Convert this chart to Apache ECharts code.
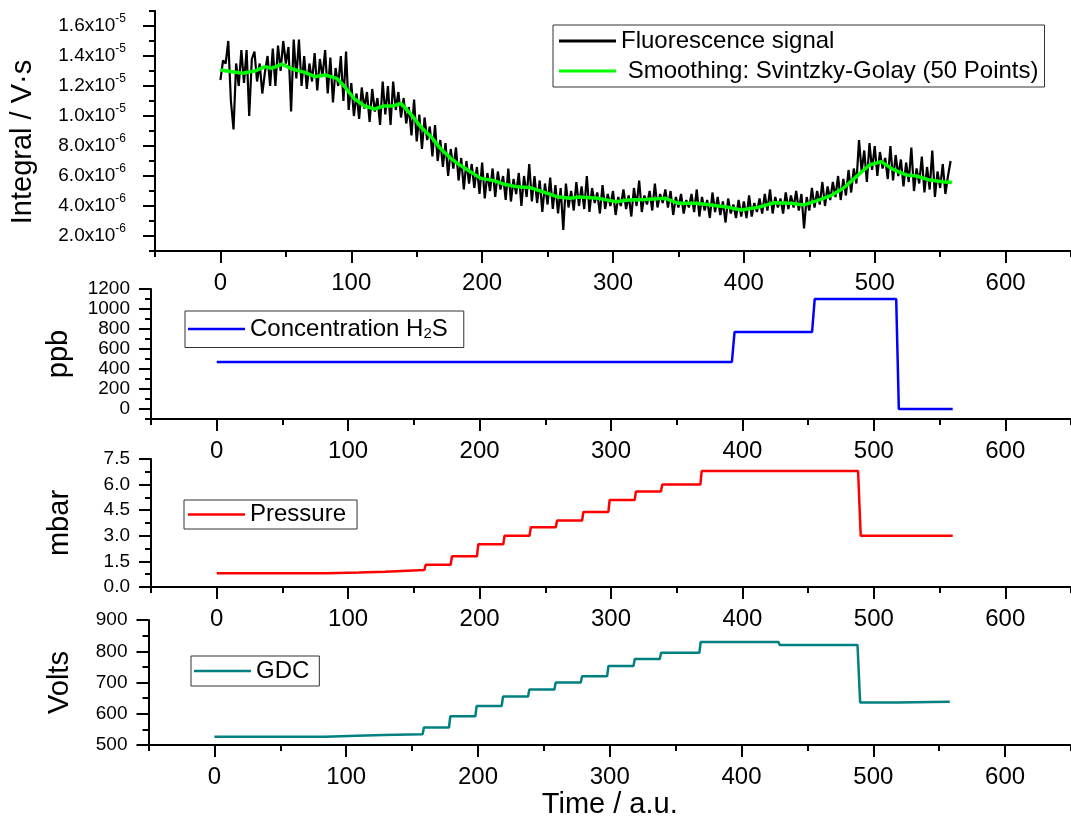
<!DOCTYPE html>
<html>
<head>
<meta charset="utf-8">
<script src="https://cdn.jsdelivr.net/npm/echarts@6/dist/echarts.min.js"></script>
<style>
  html, body { margin: 0; padding: 0; background: #fff; }
  #main { width: 1071px; height: 820px; }
</style>
</head>
<body>
<div id="main"></div>
<script>
// 荧光信号：x 从 0 开始，每 2 个单位一个点，数值单位 1e-6 V·s
let fluorStart = 0, fluorStep = 2;
let fluor = [
  12.4,13.7,13.5,15.0,11.0,9.1,13.5,12.0,14.4,12.2,
  14.4,10.0,13.8,14.3,12.3,13.5,11.5,12.9,14.0,12.0,
  14.5,12.0,14.7,13.0,15.0,13.5,14.6,10.3,15.1,12.5,
  15.1,12.0,14.0,11.8,13.5,12.3,14.2,11.7,13.8,12.6,
  14.4,11.5,13.9,10.9,13.2,12.0,14.0,11.0,14.3,10.4,
  12.2,10.0,11.5,9.8,11.9,10.5,11.6,9.6,11.8,10.3,
  11.2,9.4,12.3,10.1,12.0,9.4,12.3,10.4,11.6,9.9,
  11.2,9.5,10.6,8.7,11.1,8.3,10.1,7.8,9.9,8.4,
  9.3,7.3,9.4,7.0,8.4,6.6,8.2,6.0,7.8,6.5,
  7.9,5.7,7.2,5.1,7.0,5.5,6.8,5.2,6.6,4.8,
  6.9,4.5,6.2,5.0,6.5,4.6,6.3,5.1,6.0,4.4,
  6.5,4.3,5.8,4.8,6.2,4.0,6.0,4.6,6.8,4.3,
  6.0,4.2,5.7,3.6,5.5,4.1,5.9,3.8,5.4,3.5,
  5.2,2.4,5.5,3.9,5.0,3.7,5.6,4.0,5.3,3.8,
  6.0,3.6,5.2,4.2,4.9,3.5,5.4,3.8,4.8,4.0,
  5.0,3.4,4.6,4.0,5.1,3.8,4.7,3.3,5.2,4.0,
  5.7,3.6,4.7,4.1,5.0,3.7,5.5,3.9,4.8,4.2,
  5.1,3.9,5.0,3.4,4.6,3.9,4.8,3.5,4.4,3.9,
  4.8,3.6,5.1,3.3,4.6,3.7,4.4,3.2,4.9,3.6,
  4.6,3.4,4.3,2.9,4.5,3.5,4.1,3.2,4.4,3.3,
  4.3,3.2,4.7,3.3,4.2,3.6,4.5,3.5,4.8,3.7,
  5.1,3.5,4.6,3.9,4.5,3.5,4.9,3.8,4.7,3.9,
  5.0,3.7,4.8,2.5,4.6,3.7,5.2,3.9,5.0,4.1,
  5.6,4.0,5.3,4.4,5.6,4.6,6.0,4.4,5.8,4.7,
  6.4,4.9,6.5,5.5,8.4,6.3,7.7,5.6,8.2,6.4,
  8.0,6.0,7.6,6.5,7.2,5.8,8.0,5.7,7.4,6.0,
  7.1,5.3,6.9,5.6,7.9,5.0,6.5,5.5,7.3,4.9,
  6.6,5.1,7.7,4.6,6.3,5.2,6.8,4.8,6.0,7.0
];
// 平滑曲线
let smoothX = [0,17,27,34,39,47,55,65,72,80,89,95,102,110,118,125,132,138,146,153,
  161,168,176,183,191,199,209,216,226,236,246,257,267,274,289,302,312,325,340,350,
  363,375,388,398,411,423,436,446,456,466,476,486,496,505,514,524,532,542,552,559];
let smoothY = [13.07,12.85,13.02,13.29,13.18,13.45,13.13,12.89,12.62,12.73,12.51,11.95,11.18,10.67,10.47,10.67,10.67,10.84,10.07,9.29,
  8.62,7.85,7.18,6.73,6.29,5.84,5.69,5.47,5.29,5.24,4.96,4.62,4.51,4.6,4.51,4.29,4.4,4.44,4.51,4.18,
  4.18,4.07,3.91,3.73,3.91,4.22,4.18,4.07,4.36,4.67,5.18,5.96,6.73,6.96,6.44,6.07,6.0,5.73,5.62,5.56];
// H2S 浓度 ppb
let h2sX = [0, 392, 394, 453, 455, 517, 519, 560];
let h2sY = [470, 470, 770, 770, 1100, 1100, 0, 0];
// 压力 mbar
let pressX = [0,84,85,108,109,128,129,158,159,178,179,198,199,218,219,238,239,258,259,278,279,298,299,318,319,338,339,368,369,488,490,560];
let pressY = [0.8,0.8,0.85,0.85,0.9,0.9,1.0,1.0,1.3,1.3,1.8,1.8,2.5,2.5,3.0,3.0,3.5,3.5,3.9,3.9,4.4,4.4,5.1,5.1,5.6,5.6,6.0,6.0,6.8,6.8,3.0,3.0];
// GDC 电压
let gdcX = [0,84,85,108,109,128,129,158,159,178,179,198,199,218,219,238,239,258,259,278,279,298,299,318,319,338,339,368,369,428,429,488,490,518,519,558];
let gdcY = [527,527,530,530,532,532,535,535,556,556,592,592,625,625,655,655,678,678,700,700,720,720,753,753,775,775,795,795,830,830,820,820,636,636,639,639];

// 刻度
let xTicks = [0, 100, 200, 300, 400, 500, 600];
let yTicks1 = [2, 4, 6, 8, 10, 12, 14, 16];
let yTicks2 = [0, 200, 400, 600, 800, 1000, 1200];
let yTicks3 = [0, 1.5, 3.0, 4.5, 6.0, 7.5];
let yTicks4 = [500, 600, 700, 800, 900];

const FONT = "'Liberation Sans', Arial, sans-serif";
const smoothName = 'Smoothing: Svintzky-Golay (50 Points)';

function pairs(xs, ys) {
  return xs.map(function (x, i) { return [x, ys[i]]; });
}

let grids = [
  { left: 151, width: 926, top: 11, height: 240 },
  { left: 151, width: 926, top: 289, height: 130 },
  { left: 151, width: 926, top: 459, height: 128 },
  { left: 148.5, width: 926, top: 620, height: 129 }
];

let xAxes = [], yAxes = [];
grids.forEach(function (g, i) {
  xAxes.push({
    type: 'value', gridIndex: i, position: 'bottom', min: -50, max: 650,
    axisLine: { onZero: false, lineStyle: { color: '#000', width: 2 } },
    axisTick: { customValues: xTicks, length: 12, lineStyle: { color: '#000', width: 2 } },
    axisLabel: { customValues: xTicks, margin: 20, color: '#000', fontSize: 24, fontFamily: FONT },
    splitLine: { show: false },
    name: i === 3 ? 'Time / a.u.' : '',
    nameLocation: 'middle', nameGap: 41,
    nameTextStyle: { color: '#000', fontSize: 29, fontFamily: FONT }
  });
  xAxes.push({
    type: 'value', gridIndex: i, position: 'bottom', min: -50, max: 650, interval: 50,
    axisLine: { show: false, onZero: false },
    axisTick: { length: 6, lineStyle: { color: '#000', width: 2 } },
    axisLabel: { show: false },
    splitLine: { show: false }
  });
});

let yCfg = [
  { min: 1, max: 17, minor: 1, ticks: yTicks1, name: 'Integral / V·s', gap: 118, margin: 29 },
  { min: -100, max: 1200, minor: 100, ticks: yTicks2, name: 'ppb', gap: 78, margin: 21 },
  { min: 0, max: 7.5, minor: 0.75, ticks: yTicks3, name: 'mbar', gap: 77, margin: 21 },
  { min: 500, max: 900, minor: 50, ticks: yTicks4, name: 'Volts', gap: 74, margin: 21 }
];

yCfg.forEach(function (c, i) {
  let label = { customValues: c.ticks, margin: c.margin, color: '#000', fontSize: 19, fontFamily: FONT };
  if (i === 0) {
    label.formatter = function (v) {
      if (v >= 10) return '{m|' + (v / 10).toFixed(1) + 'x10}{s|-5}';
      return '{m|' + v.toFixed(1) + 'x10}{s|-6}';
    };
    label.rich = {
      m: { fontSize: 19, fontFamily: FONT, color: '#000' },
      s: { fontSize: 12, fontFamily: FONT, color: '#000', padding: [0, 0, 14, 0] }
    };
  } else if (i === 2) {
    label.formatter = function (v) { return v.toFixed(1); };
  } else {
    label.formatter = function (v) { return String(v); };
  }
  yAxes.push({
    type: 'value', gridIndex: i, position: 'left', min: c.min, max: c.max,
    axisLine: { show: true, onZero: false, lineStyle: { color: '#000', width: 2 } },
    axisTick: { customValues: c.ticks, length: 12, lineStyle: { color: '#000', width: 2 } },
    axisLabel: label,
    splitLine: { show: false },
    name: c.name, nameLocation: 'middle', nameGap: c.gap, nameRotate: 90,
    nameTextStyle: { color: '#000', fontSize: 29, fontFamily: FONT, padding: i === 0 ? [0, 22, 0, 0] : 0 }
  });
  yAxes.push({
    type: 'value', gridIndex: i, position: 'left', min: c.min, max: c.max, interval: c.minor,
    axisLine: { show: false, onZero: false },
    axisTick: { length: 6, lineStyle: { color: '#000', width: 2 } },
    axisLabel: { show: false },
    splitLine: { show: false }
  });
});

let legendBase = {
  orient: 'vertical', itemWidth: 57, itemHeight: 2.5, itemGap: 6, icon: 'rect',
  borderColor: '#333', borderWidth: 1, backgroundColor: '#fff',
  selectedMode: false,
  textStyle: { color: '#000', fontSize: 24, fontFamily: FONT }
};

let legends = [
  Object.assign({}, legendBase, {
    left: 553, top: 25, padding: [4, 6, 4, 6], itemHeight: 3,
    data: ['Fluorescence signal', smoothName],
    formatter: function (name) { return name === smoothName ? ' ' + name : name; }
  }),
  Object.assign({}, legendBase, {
    left: 185, top: 311, padding: [6, 16, 6, 3],
    data: ['Concentration H2S'],
    formatter: function () { return 'Concentration H{sub|2}S'; },
    textStyle: {
      color: '#000', fontSize: 24, fontFamily: FONT,
      rich: { sub: { fontSize: 15, fontFamily: FONT, color: '#000', padding: [10, 0, 0, 0] } }
    }
  }),
  Object.assign({}, legendBase, {
    left: 184, top: 500, padding: [2.5, 11, 2.5, 4],
    data: ['Pressure']
  }),
  Object.assign({}, legendBase, {
    left: 191, top: 656, padding: [3, 10, 3, 3],
    data: ['GDC']
  })
];

function lineSeries(name, grid, data, color, width) {
  return {
    type: 'line', name: name, xAxisIndex: grid * 2, yAxisIndex: grid * 2,
    data: data, symbol: 'none', showSymbol: false,
    lineStyle: { color: color, width: width }, itemStyle: { color: color },
    emphasis: { disabled: true }
  };
}

let myChart = echarts.init(document.getElementById('main'));
let option = {
  animation: false,
  backgroundColor: '#fff',
  grid: grids,
  xAxis: xAxes,
  yAxis: yAxes,
  legend: legends,
  series: [
    lineSeries('Fluorescence signal', 0, fluor.map(function (v, i) { return [fluorStart + i * fluorStep, v]; }), '#000', 2.2),
    lineSeries(smoothName, 0, pairs(smoothX, smoothY), '#00ff00', 3.5),
    lineSeries('Concentration H2S', 1, pairs(h2sX, h2sY), '#0000ff', 2.5),
    lineSeries('Pressure', 2, pairs(pressX, pressY), '#ff0000', 2.5),
    lineSeries('GDC', 3, pairs(gdcX, gdcY), '#008080', 2.5)
  ]
};
myChart.setOption(option);
</script>
</body>
</html>
